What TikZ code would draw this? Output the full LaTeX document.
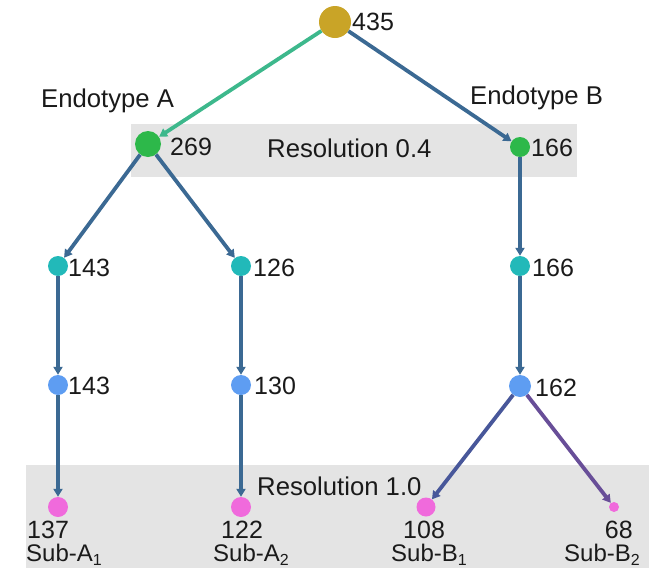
\documentclass[tikz,border=0pt]{standalone}
\usepackage{fontspec}
\setmainfont{Liberation Sans}
\usetikzlibrary{arrows.meta}
\definecolor{cgold}{HTML}{C9A427}
\definecolor{cgreen}{HTML}{2DB84A}
\definecolor{cteal}{HTML}{22B9B9}
\definecolor{cblue}{HTML}{5E9DF2}
\definecolor{cpink}{HTML}{F06ADC}
\definecolor{cband}{HTML}{E4E4E4}
\definecolor{eteal}{HTML}{3DB88C}
\definecolor{esteel}{HTML}{3B6993}
\definecolor{eindigo}{HTML}{48579A}
\definecolor{epurple}{HTML}{684E98}
\definecolor{ctext}{HTML}{1A1A1A}
\newcommand{\sub}[1]{\raisebox{-4pt}{\fontsize{16}{16}\selectfont #1}}
\tikzset{
  dot/.style={circle,inner sep=0pt,minimum size=#1},
  lbl/.style={font=\fontsize{25}{28}\selectfont,inner sep=0pt,text=ctext,anchor=base west},
  ttl/.style={font=\fontsize{25.7}{28}\selectfont,inner sep=0pt,text=ctext,anchor=base west},
  sbl/.style={font=\fontsize{24}{28}\selectfont,inner sep=0pt,text=ctext,anchor=base west},
  edge/.style={line width=3.8pt,draw=esteel,-{Triangle[length=8pt,width=9pt]}}
}
\begin{document}
\begin{tikzpicture}[x=1pt,y=-1pt]
\useasboundingbox (0,0) rectangle (649,568);
% bands
\fill[cband] (131,124) rectangle (577,177);
\fill[cband] (26,465) rectangle (649,568);
% nodes
\node[dot=32pt,fill=cgold] (n435) at (335,22) {};
\node[dot=26pt,fill=cgreen] (n269) at (148,144) {};
\node[dot=20pt,fill=cgreen] (n166a) at (520,147) {};
\node[dot=20pt,fill=cteal] (n143a) at (58,266) {};
\node[dot=20pt,fill=cteal] (n126) at (241,266) {};
\node[dot=20pt,fill=cteal] (n166b) at (520,266) {};
\node[dot=20pt,fill=cblue] (n143b) at (58,385) {};
\node[dot=20pt,fill=cblue] (n130) at (241,385) {};
\node[dot=22pt,fill=cblue] (n162) at (520,386) {};
\node[dot=20pt,fill=cpink] (n137) at (58,507) {};
\node[dot=20pt,fill=cpink] (n122) at (241,507) {};
\node[dot=19pt,fill=cpink] (n108) at (426,507) {};
\node[dot=10pt,fill=cpink] (n68) at (614,507) {};
% edges
\draw[edge,draw=eteal] (n435) -- (n269);
\draw[edge] (n435) -- (n166a);
\draw[edge] (n269) -- (n143a);
\draw[edge] (n269) -- (n126);
\draw[edge] (n166a) -- (n166b);
\draw[edge] (n143a) -- (n143b);
\draw[edge] (n126) -- (n130);
\draw[edge] (n166b) -- (n162);
\draw[edge] (n143b) -- (n137);
\draw[edge] (n130) -- (n122);
\draw[edge,draw=eindigo] (n162) -- (n108);
\draw[edge,draw=epurple] (n162) -- (n68);
% number labels
\node[lbl] (t435) at (352,30) {435};
\node[lbl] (t269) at (170,155) {269};
\node[lbl] (t166a) at (531,156) {166};
\node[lbl] (t143a) at (68,276) {143};
\node[lbl] (t126) at (253,276) {126};
\node[lbl] (t166b) at (532,276) {166};
\node[lbl] (t143b) at (68,394) {143};
\node[lbl] (t130) at (254,394) {130};
\node[lbl] (t162) at (535,396) {162};
% titles
\node[ttl] (endoA) at (41,107) {Endotype A};
\node[ttl] (endoB) at (470,104) {Endotype B};
\node[ttl] (res04) at (267,157) {Resolution 0.4};
\node[ttl] (res10) at (257,495) {Resolution 1.0};
% bottom labels
\node[lbl] (b137) at (27,538) {137};
\node[sbl] (sA1) at (26,561) {Sub-A\sub{1}};
\node[lbl] (b122) at (221,538) {122};
\node[sbl] (sA2) at (213,561) {Sub-A\sub{2}};
\node[lbl] (b108) at (403,538) {108};
\node[sbl] (sB1) at (391,561) {Sub-B\sub{1}};
\node[lbl,anchor=base east] (b68) at (633,538) {68};
\node[sbl,anchor=base east] (sB2) at (640,561) {Sub-B\sub{2}};
\end{tikzpicture}
\end{document}
